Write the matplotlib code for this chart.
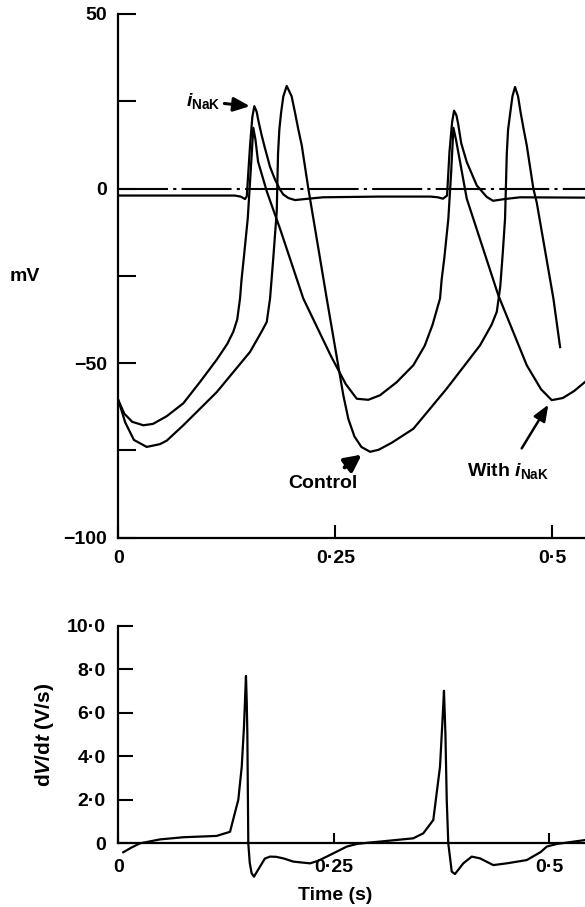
import matplotlib.pyplot as plt

plt.rcParams['font.family'] = ['Liberation Sans', 'DejaVu Sans']
plt.rcParams['mathtext.fontset'] = 'custom'
plt.rcParams['mathtext.rm'] = 'Liberation Sans:bold'
plt.rcParams['mathtext.it'] = 'Liberation Sans:italic:bold'

# membrane potential, control (mV)
control_t = [0.0, 0.008, 0.018, 0.0327, 0.048, 0.0558, 0.0749, 0.1134, 0.1517, 0.165,
             0.171, 0.1748, 0.1785, 0.1825, 0.184, 0.1855, 0.1875, 0.1901, 0.194, 0.1997,
             0.2036, 0.2074, 0.2113, 0.2189, 0.2247, 0.2401, 0.2592, 0.265, 0.272, 0.28,
             0.29, 0.30, 0.315, 0.3399, 0.3783, 0.4167, 0.43, 0.436, 0.44, 0.443,
             0.4455, 0.4475, 0.449, 0.4515, 0.454, 0.457, 0.4605, 0.4635, 0.467, 0.4705,
             0.4781, 0.482, 0.5012, 0.5089]
control_v = [-60.6, -67, -72, -74, -73.2, -72.2, -67.8, -58.3, -46.8, -41,
             -38.2, -31.5, -20, -6.6, 10, 16.9, 21.7, 26.4, 29.4, 26.4,
             21.7, 16.9, 12.4, 0, -8.6, -31.5, -59.2, -66, -71, -74,
             -75.4, -74.8, -72.8, -68.8, -57.3, -44.9, -39, -35.3, -28, -18,
             -8.6, 10, 16.9, 21.7, 26.4, 29.1, 26.4, 21.7, 16.9, 12.4,
             0, -4, -31.5, -45.4]

# membrane potential with i_NaK (mV)
nak_t = [0.0, 0.007, 0.016, 0.0288, 0.04, 0.0558, 0.0749, 0.0941, 0.1134, 0.1255,
         0.1325, 0.137, 0.1402, 0.142, 0.1445, 0.1491, 0.1525, 0.1555, 0.158, 0.161,
         0.1713, 0.1863, 0.2131, 0.245, 0.262, 0.2747, 0.288, 0.3015, 0.3205, 0.3399,
         0.353, 0.362, 0.3706, 0.3725, 0.3755, 0.3802, 0.3835, 0.386, 0.389, 0.3937,
         0.4014, 0.4378, 0.4705, 0.487, 0.4993, 0.512, 0.525, 0.5376]
nak_v = [-60.6, -64.5, -66.8, -67.8, -67.4, -65.2, -61.5, -55.4, -49, -44.5,
         -41, -37.5, -31.5, -26, -20, -8.6, 5, 17.4, 14, 7.7,
         -1, -11.5, -31.5, -48, -56, -60.2, -60.5, -59.2, -55.5, -50.6,
         -45, -39, -31.5, -26, -20, -8.6, 5, 17.4, 14, 7.6,
         -2.9, -30.6, -50.6, -57.5, -60.6, -60, -58, -55.4]

# pump current trace (arbitrary units, drawn on the mV scale)
inak_t = [0.0, 0.134, 0.141, 0.146, 0.148, 0.1517, 0.1544, 0.1567, 0.1594, 0.1613,
          0.1652, 0.169, 0.1748, 0.1805, 0.1863, 0.1901, 0.1959, 0.2036, 0.215, 0.2358,
          0.30, 0.36, 0.368, 0.374, 0.3787, 0.3815, 0.3845, 0.3868, 0.3895, 0.3915,
          0.395, 0.4014, 0.4129, 0.4244, 0.4317, 0.445, 0.4628, 0.5376]
inak_v = [-2.0, -2.0, -2.3, -3.0, -2.2, 12.1, 20.5, 23.6, 22, 19.5,
          15.2, 11.5, 6.2, 2.6, -0.3, -1.7, -2.7, -3.3, -3.0, -2.5,
          -2.3, -2.3, -2.5, -2.9, -2.0, 10.5, 19, 22.3, 21, 18.5,
          13, 7.6, 0.9, -2.4, -3.5, -3.0, -2.5, -2.6]

zero_t = [0.0, 0.5376]
zero_v = [0.0, 0.0]

# dV/dt (V/s)
dvdt_t = [0.0058, 0.015, 0.0252, 0.0484, 0.0754, 0.114, 0.1296, 0.1392, 0.1432, 0.1458,
          0.147, 0.1481, 0.149, 0.1497, 0.1508, 0.1525, 0.1547, 0.1574, 0.1644, 0.17,
          0.176, 0.183, 0.1914, 0.203, 0.2224, 0.232, 0.2418, 0.255, 0.265, 0.2766,
          0.29, 0.3036, 0.3422, 0.3538, 0.3654, 0.3732, 0.3763, 0.3778, 0.3795, 0.381,
          0.3828, 0.3868, 0.3906, 0.4002, 0.41, 0.4196, 0.435, 0.4506, 0.4738, 0.49,
          0.497, 0.5086, 0.5414]
dvdt_v = [-0.41, -0.2, 0.0, 0.18, 0.28, 0.34, 0.53, 2.0, 3.52, 5.36,
          6.6, 7.69, 6.5, 5.05, 0.0, -0.9, -1.38, -1.53, -1.07, -0.7,
          -0.61, -0.62, -0.69, -0.84, -0.92, -0.8, -0.61, -0.35, -0.15, -0.03,
          0.03, 0.08, 0.23, 0.46, 1.07, 3.52, 5.82, 7.01, 5.0, 2.0,
          0.0, -1.3, -1.41, -0.92, -0.61, -0.69, -1.0, -0.92, -0.77, -0.4,
          -0.15, -0.03, 0.15]

W, H = 585, 907
fig = plt.figure(figsize=(W / 100, H / 100), dpi=100)

def fx(px):
    return px / W

def fy(py):
    return 1 - py / H

lw = 1.6
fs = 14

# ---- top panel: membrane potential
ax1 = fig.add_axes([fx(118.3), fy(537.7), fx(585 - 118.3), (537.7 - 14) / H])
ax1.plot(zero_t, zero_v, color='k', lw=1.5, linestyle=(0, (24, 2.5, 1.5, 2.5)))
ax1.plot(inak_t, inak_v, color='k', lw=lw)
ax1.plot(nak_t, nak_v, color='k', lw=lw)
ax1.plot(control_t, control_v, color='k', lw=lw)
ax1.set_xlim(0, 0.5376)
ax1.set_ylim(-100, 50)
for s in ['top', 'right']:
    ax1.spines[s].set_visible(False)
for s in ['left', 'bottom']:
    ax1.spines[s].set_linewidth(1.6)
ax1.set_yticks([50, 0, -50, -100])
ax1.set_yticklabels(['50', '0', '\u221250', '\u2212100'])
ax1.set_yticks([25, -25, -75], minor=True)
ax1.set_xticks([0, 0.25, 0.5])
ax1.set_xticklabels(['0', '0\u00b725', '0\u00b75'])
ax1.tick_params(axis='y', which='both', direction='in', length=13, width=1.5, pad=8,
                labelsize=fs)
ax1.tick_params(axis='x', which='both', direction='in', length=9.5, width=1.5, pad=9,
                labelsize=fs)

ax1.annotate(r'$i_{\rm NaK}$', xy=(0.1517, 23.6), xytext=(0.1174, 25),
             fontsize=fs, ha='right', va='center',
             arrowprops=dict(arrowstyle='-|>,head_length=0.7,head_width=0.3',
                             color='k', lw=2.2, shrinkA=1, shrinkB=0))
ax1.annotate('Control', xy=(0.2804, -76.2), xytext=(0.2357, -84.5),
             fontsize=fs, ha='center', va='center', fontweight='bold',
             arrowprops=dict(arrowstyle='-|>,head_length=0.7,head_width=0.35',
                             color='k', lw=3, shrinkA=6, shrinkB=0))
ax1.annotate(r'With $i_{\rm NaK}$', xy=(0.4954, -61.9), xytext=(0.449, -80.8),
             fontsize=fs, ha='center', va='center', fontweight='bold',
             arrowprops=dict(arrowstyle='-|>,head_length=0.7,head_width=0.28',
                             color='k', lw=1.8, shrinkA=8, shrinkB=0))

for lab in ax1.get_xticklabels() + ax1.get_yticklabels():
    lab.set_fontweight('bold')

fig.text(fx(25), fy(277), 'mV', fontsize=fs, fontweight='bold', ha='center', va='center')

# ---- bottom panel: dV/dt
ax2 = fig.add_axes([fx(118.3), fy(882.5), fx(585 - 118.3), (882.5 - 625.7) / H])
ax2.plot(dvdt_t, dvdt_v, color='k', lw=lw)
ax2.set_xlim(0, 0.5414)
ax2.set_ylim(-1.8, 10)
for s in ['top', 'right']:
    ax2.spines[s].set_visible(False)
ax2.spines['bottom'].set_position(('data', 0))
ax2.spines['left'].set_bounds(0, 10)
for s in ['left', 'bottom']:
    ax2.spines[s].set_linewidth(1.6)
ax2.set_yticks([0, 2, 4, 6, 8, 10])
ax2.set_yticklabels(['0', '2\u00b70', '4\u00b70', '6\u00b70', '8\u00b70', '10\u00b70'])
ax2.set_xticks([0, 0.25, 0.5])
ax2.set_xticklabels(['0', '0\u00b725', '0\u00b75'])
ax2.tick_params(axis='y', direction='in', length=11, width=1.5, pad=9, labelsize=fs)
ax2.tick_params(axis='x', direction='in', length=7.5, width=1.5, pad=11, labelsize=fs)
for lab in ax2.get_xticklabels() + ax2.get_yticklabels():
    lab.set_fontweight('bold')

fig.text(fx(45), fy(735), r'd$V$/d$t$ (V/s)', fontsize=15, fontweight='bold',
         rotation=90, ha='center', va='center')
fig.text(fx(335), fy(895), 'Time (s)', fontsize=fs, fontweight='bold',
         ha='center', va='center')

fig.savefig('out.png', dpi=100)
